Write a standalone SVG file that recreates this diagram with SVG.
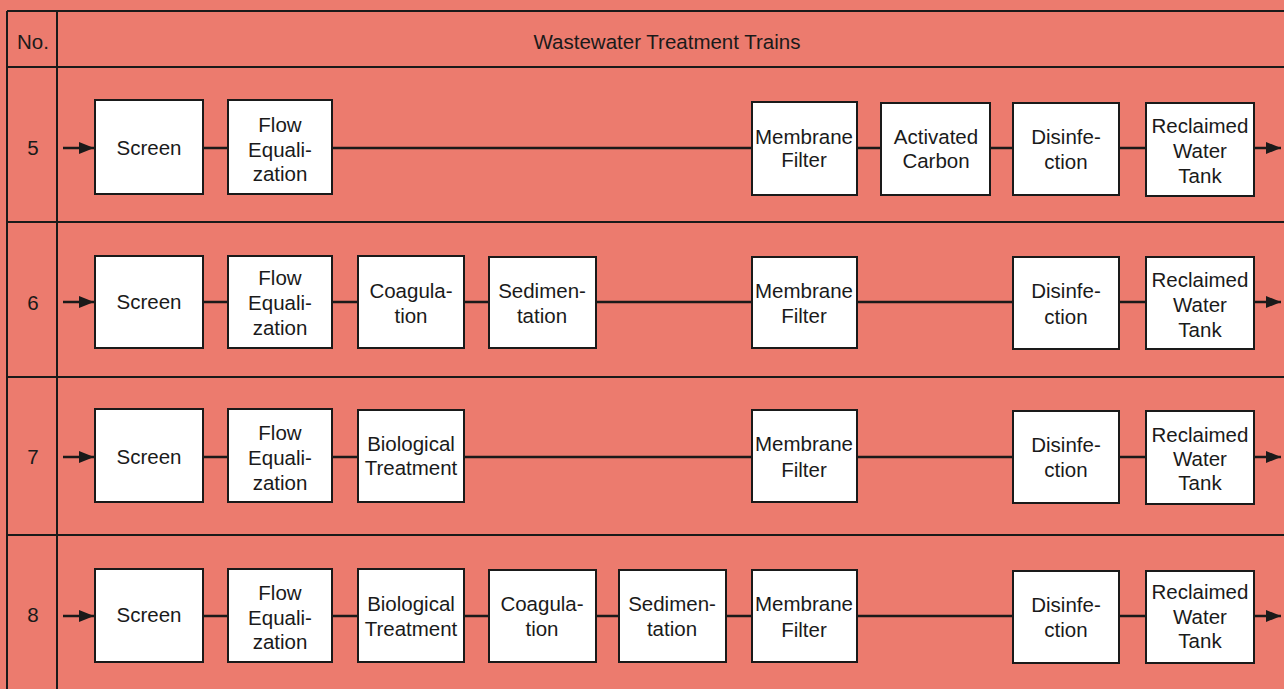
<svg xmlns="http://www.w3.org/2000/svg" width="1284" height="689" viewBox="0 0 1284 689">
<defs>
<style>
.bg{fill:#ec7b6e}
.grid{stroke:#1a1a1a;stroke-width:2;fill:none}
.box{fill:#ffffff;stroke:#1a1a1a;stroke-width:2}
.t{font-family:"Liberation Sans",Arial,sans-serif;font-size:20.5px;fill:#1a1a1a;text-anchor:middle}
.c{stroke:#1a1a1a;stroke-width:2.5;fill:none}
</style>
<marker id="ah" viewBox="0 0 10 10" refX="10" refY="5" markerWidth="6" markerHeight="6" orient="auto" markerUnits="strokeWidth">
<path d="M0,1 L10,5 L0,9 Z" fill="#1a1a1a"/>
</marker>
</defs>
<rect class="bg" x="0" y="0" width="1284" height="689"/>
<g id="table">
<path class="grid" d="M7,11 H1290 M7,67 H1290 M7,222 H1290 M7,377 H1290 M7,535 H1290 M7,11 V700 M57,11 V700"/>
<text class="t" x="33" y="49">No.</text>
<text class="t" x="667" y="49">Wastewater Treatment Trains</text>
<text class="t" x="33" y="155">5</text>
<text class="t" x="33" y="310">6</text>
<text class="t" x="33" y="464">7</text>
<text class="t" x="33" y="622">8</text>
</g>
<g id="connectors">
<line class="c" x1="63" y1="148" x2="94" y2="148" marker-end="url(#ah)"/>
<line class="c" x1="203" y1="148" x2="228" y2="148"/>
<line class="c" x1="332" y1="148" x2="752" y2="148"/>
<line class="c" x1="857" y1="148" x2="881" y2="148"/>
<line class="c" x1="990" y1="148" x2="1013" y2="148"/>
<line class="c" x1="1119" y1="148" x2="1146" y2="148"/>
<line class="c" x1="1254" y1="148" x2="1281" y2="148" marker-end="url(#ah)"/>

<line class="c" x1="63" y1="302" x2="94" y2="302" marker-end="url(#ah)"/>
<line class="c" x1="203" y1="302" x2="228" y2="302"/>
<line class="c" x1="332" y1="302" x2="358" y2="302"/>
<line class="c" x1="464" y1="302" x2="489" y2="302"/>
<line class="c" x1="596" y1="302" x2="752" y2="302"/>
<line class="c" x1="857" y1="302" x2="1013" y2="302"/>
<line class="c" x1="1119" y1="302" x2="1146" y2="302"/>
<line class="c" x1="1254" y1="302" x2="1281" y2="302" marker-end="url(#ah)"/>

<line class="c" x1="63" y1="457" x2="94" y2="457" marker-end="url(#ah)"/>
<line class="c" x1="203" y1="457" x2="228" y2="457"/>
<line class="c" x1="332" y1="457" x2="358" y2="457"/>
<line class="c" x1="464" y1="457" x2="752" y2="457"/>
<line class="c" x1="857" y1="457" x2="1013" y2="457"/>
<line class="c" x1="1119" y1="457" x2="1146" y2="457"/>
<line class="c" x1="1254" y1="457" x2="1281" y2="457" marker-end="url(#ah)"/>

<line class="c" x1="63" y1="616" x2="94" y2="616" marker-end="url(#ah)"/>
<line class="c" x1="203" y1="616" x2="228" y2="616"/>
<line class="c" x1="332" y1="616" x2="358" y2="616"/>
<line class="c" x1="464" y1="616" x2="489" y2="616"/>
<line class="c" x1="596" y1="616" x2="619" y2="616"/>
<line class="c" x1="726" y1="616" x2="752" y2="616"/>
<line class="c" x1="857" y1="616" x2="1013" y2="616"/>
<line class="c" x1="1119" y1="616" x2="1146" y2="616"/>
<line class="c" x1="1254" y1="616" x2="1281" y2="616" marker-end="url(#ah)"/>
</g>

<!-- Row 5 -->
<g id="r5-screen"><rect class="box" x="95" y="100" width="108" height="94"/><text class="t" x="149" y="155">Screen</text></g>
<g id="r5-flow"><rect class="box" x="228" y="100" width="104" height="94"/><text class="t" x="280" y="132">Flow</text><text class="t" x="280" y="157">Equali-</text><text class="t" x="280" y="181">zation</text></g>
<g id="r5-membrane"><rect class="box" x="752" y="102" width="105" height="93"/><text class="t" x="804" y="144">Membrane</text><text class="t" x="804" y="167">Filter</text></g>
<g id="r5-carbon"><rect class="box" x="881" y="103" width="109" height="92"/><text class="t" x="936" y="144">Activated</text><text class="t" x="936" y="168">Carbon</text></g>
<g id="r5-disinf"><rect class="box" x="1013" y="103" width="106" height="92"/><text class="t" x="1066" y="144">Disinfe-</text><text class="t" x="1066" y="169">ction</text></g>
<g id="r5-tank"><rect class="box" x="1146" y="103" width="108" height="93"/><text class="t" x="1200" y="133">Reclaimed</text><text class="t" x="1200" y="158">Water</text><text class="t" x="1200" y="183">Tank</text></g>

<!-- Row 6 -->
<g id="r6-screen"><rect class="box" x="95" y="256" width="108" height="92"/><text class="t" x="149" y="309">Screen</text></g>
<g id="r6-flow"><rect class="box" x="228" y="256" width="104" height="92"/><text class="t" x="280" y="285">Flow</text><text class="t" x="280" y="310">Equali-</text><text class="t" x="280" y="335">zation</text></g>
<g id="r6-coag"><rect class="box" x="358" y="256" width="106" height="92"/><text class="t" x="411" y="298">Coagula-</text><text class="t" x="411" y="323">tion</text></g>
<g id="r6-sed"><rect class="box" x="489" y="257" width="107" height="91"/><text class="t" x="542" y="298">Sedimen-</text><text class="t" x="542" y="323">tation</text></g>
<g id="r6-membrane"><rect class="box" x="752" y="257" width="105" height="91"/><text class="t" x="804" y="298">Membrane</text><text class="t" x="804" y="323">Filter</text></g>
<g id="r6-disinf"><rect class="box" x="1013" y="257" width="106" height="92"/><text class="t" x="1066" y="298">Disinfe-</text><text class="t" x="1066" y="324">ction</text></g>
<g id="r6-tank"><rect class="box" x="1146" y="257" width="108" height="92"/><text class="t" x="1200" y="287">Reclaimed</text><text class="t" x="1200" y="312">Water</text><text class="t" x="1200" y="337">Tank</text></g>

<!-- Row 7 -->
<g id="r7-screen"><rect class="box" x="95" y="409" width="108" height="93"/><text class="t" x="149" y="464">Screen</text></g>
<g id="r7-flow"><rect class="box" x="228" y="409" width="104" height="93"/><text class="t" x="280" y="440">Flow</text><text class="t" x="280" y="465">Equali-</text><text class="t" x="280" y="490">zation</text></g>
<g id="r7-bio"><rect class="box" x="358" y="410" width="106" height="92"/><text class="t" x="411" y="451">Biological</text><text class="t" x="411" y="475">Treatment</text></g>
<g id="r7-membrane"><rect class="box" x="752" y="410" width="105" height="92"/><text class="t" x="804" y="451">Membrane</text><text class="t" x="804" y="477">Filter</text></g>
<g id="r7-disinf"><rect class="box" x="1013" y="411" width="106" height="92"/><text class="t" x="1066" y="452">Disinfe-</text><text class="t" x="1066" y="477">ction</text></g>
<g id="r7-tank"><rect class="box" x="1146" y="411" width="108" height="93"/><text class="t" x="1200" y="442">Reclaimed</text><text class="t" x="1200" y="466">Water</text><text class="t" x="1200" y="490">Tank</text></g>

<!-- Row 8 -->
<g id="r8-screen"><rect class="box" x="95" y="569" width="108" height="93"/><text class="t" x="149" y="622">Screen</text></g>
<g id="r8-flow"><rect class="box" x="228" y="569" width="104" height="93"/><text class="t" x="280" y="600">Flow</text><text class="t" x="280" y="625">Equali-</text><text class="t" x="280" y="649">zation</text></g>
<g id="r8-bio"><rect class="box" x="358" y="569" width="106" height="93"/><text class="t" x="411" y="611">Biological</text><text class="t" x="411" y="636">Treatment</text></g>
<g id="r8-coag"><rect class="box" x="489" y="570" width="107" height="92"/><text class="t" x="542" y="611">Coagula-</text><text class="t" x="542" y="636">tion</text></g>
<g id="r8-sed"><rect class="box" x="619" y="570" width="107" height="92"/><text class="t" x="672" y="611">Sedimen-</text><text class="t" x="672" y="636">tation</text></g>
<g id="r8-membrane"><rect class="box" x="752" y="570" width="105" height="92"/><text class="t" x="804" y="611">Membrane</text><text class="t" x="804" y="637">Filter</text></g>
<g id="r8-disinf"><rect class="box" x="1013" y="571" width="106" height="92"/><text class="t" x="1066" y="612">Disinfe-</text><text class="t" x="1066" y="637">ction</text></g>
<g id="r8-tank"><rect class="box" x="1146" y="571" width="108" height="92"/><text class="t" x="1200" y="599">Reclaimed</text><text class="t" x="1200" y="624">Water</text><text class="t" x="1200" y="648">Tank</text></g>
</svg>
